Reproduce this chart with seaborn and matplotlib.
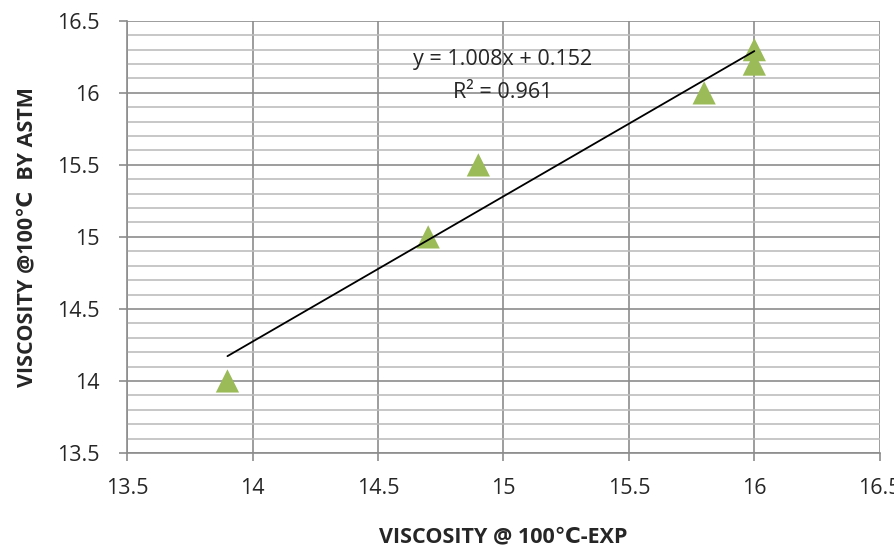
import numpy as np
import seaborn as sns
import matplotlib.pyplot as plt
from matplotlib.ticker import MultipleLocator

# data
visc_exp = [13.9, 14.7, 14.9, 15.8, 16.0, 16.0]
visc_astm = [14.0, 15.0, 15.5, 16.0, 16.3, 16.2]

sns.set_style('white')
plt.rcParams['font.family'] = ['Open Sans', 'DejaVu Sans']

fig = plt.figure(figsize=(8.95, 5.49), dpi=100)
ax = fig.add_axes([0.142, 0.175, 0.841, 0.787])

# gridlines
ax.yaxis.set_major_locator(MultipleLocator(0.5))
ax.yaxis.set_minor_locator(MultipleLocator(0.1))
ax.xaxis.set_major_locator(MultipleLocator(0.5))
ax.grid(which='major', axis='both', color='#8c8c8c', linewidth=1.2)
ax.grid(which='minor', axis='y', color='#bdbdbd', linewidth=1.2)
ax.set_axisbelow(True)

sns.scatterplot(x=visc_exp, y=visc_astm, marker='^', s=280, color='#9BBB59',
                edgecolor='none', ax=ax, zorder=3)

# linear trendline
slope, intercept = np.polyfit(visc_exp, visc_astm, 1)
xs = np.array([min(visc_exp), max(visc_exp)])
ax.plot(xs, slope * xs + intercept, color='black', linewidth=1.3, zorder=4)

ax.text(0.499, 0.91, 'y = 1.008x + 0.152', transform=ax.transAxes,
        ha='center', va='center', fontsize=15.5)
ax.text(0.499, 0.835, 'R² = 0.961', transform=ax.transAxes,
        ha='center', va='center', fontsize=15.5)

ax.set_xlim(13.5, 16.5)
ax.set_ylim(13.5, 16.5)
ax.set_xticks([13.5, 14, 14.5, 15, 15.5, 16, 16.5])
ax.set_xticklabels(['13.5', '14', '14.5', '15', '15.5', '16', '16.5'])
ax.set_yticks([13.5, 14, 14.5, 15, 15.5, 16, 16.5])
ax.set_yticklabels(['13.5', '14', '14.5', '15', '15.5', '16', '16.5'])
ax.tick_params(axis='both', which='major', labelsize=15.5, length=6, width=1.2,
               color='#8c8c8c', direction='out', bottom=True, left=True)
ax.tick_params(axis='x', pad=12)
ax.tick_params(axis='y', pad=14)
ax.tick_params(which='minor', length=0)

for side in ['top', 'right']:
    ax.spines[side].set_visible(False)
for side in ['left', 'bottom']:
    ax.spines[side].set_color('#8c8c8c')
    ax.spines[side].set_linewidth(1.2)

ax.set_xlabel('VISCOSITY @ 100℃-EXP', fontsize=15.5, fontweight='bold', labelpad=20)
ax.set_ylabel('VISCOSITY @100℃  BY ASTM', fontsize=15.5, fontweight='bold', labelpad=14)

fig.savefig('out.png', dpi=100)
